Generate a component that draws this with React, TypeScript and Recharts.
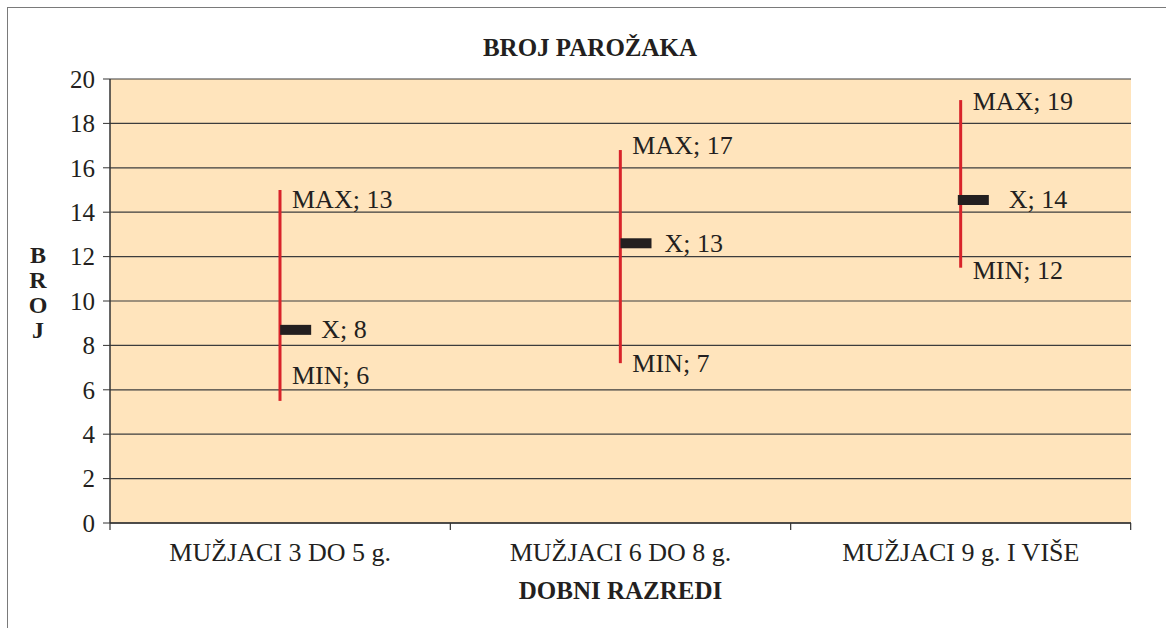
import React from "react";
import { ComposedChart, Bar, Scatter, XAxis, YAxis, CartesianGrid } from "recharts";

const categories = ["MUŽJACI 3 DO 5 g.", "MUŽJACI 6 DO 8 g.", "MUŽJACI 9 g. I VIŠE"];
const highValues = [15, 16.8, 19.05];
const lowValues = [5.5, 7.2, 11.5];
const meanValues = [8.7, 12.6, 14.55];
const maxLabels = [13, 17, 19];
const minLabels = [6, 7, 12];
const meanLabels = [8, 13, 14];
const yTicks = [0, 2, 4, 6, 8, 10, 12, 14, 16, 18, 20];

// hand-placed label nudges, as in the original sheet (px)
const maxNudge = [9, -5, 1];
const minNudge = [-25, 0, 3];
const meanMarkerShift = [0, 0, -3];
const meanTextGap = [10, 13, 20];

const FONT = "'Liberation Serif', 'DejaVu Serif', serif";
const INK = "#231f20";
const RED = "#d8232a";
const PLOT_BG = "#ffe4bc";

const data = categories.map((name, i) => ({
  name,
  idx: i,
  range: [lowValues[i], highValues[i]],
  mean: meanValues[i],
}));

const RangeShape = (props: any) => {
  const { x, y, width, height, payload } = props;
  const i = payload.idx;
  const cx = x + width / 2;
  return (
    <g>
      <line x1={cx} x2={cx} y1={y} y2={y + height} stroke={RED} strokeWidth={3} />
      <text x={cx + 12} y={y + maxNudge[i]} dominantBaseline="central" fontFamily={FONT} fontSize={26} fill={INK}>
        MAX; {maxLabels[i]}
      </text>
      <text x={cx + 12} y={y + height + minNudge[i]} dominantBaseline="central" fontFamily={FONT} fontSize={26} fill={INK}>
        MIN; {minLabels[i]}
      </text>
    </g>
  );
};

// category band edges -> tick marks below the x axis
const BandTicks = (props: any) => {
  const { x, y, width, height, index } = props;
  const yb = y + height;
  return (
    <g>
      <line x1={x} x2={x} y1={yb} y2={yb + 7} stroke="#333" strokeWidth={1.2} />
      {index === categories.length - 1 && (
        <line x1={x + width} x2={x + width} y1={yb} y2={yb + 7} stroke="#333" strokeWidth={1.2} />
      )}
    </g>
  );
};

const MeanShape = (props: any) => {
  const { cx, cy, payload } = props;
  const i = payload.idx;
  const x0 = cx + meanMarkerShift[i];
  return (
    <g>
      <rect x={x0} y={cy - 5} width={31} height={10} fill={INK} />
      <text x={x0 + 31 + meanTextGap[i]} y={cy} dominantBaseline="central" fontFamily={FONT} fontSize={26} fill={INK}>
        X; {meanLabels[i]}
      </text>
    </g>
  );
};

const YTitle = () => {
  const letters = ["B", "R", "O", "J"];
  return (
    <text x={38} textAnchor="middle" fontFamily={FONT} fontSize={24} fontWeight="bold" fill={INK}>
      {letters.map((l, k) => (
        <tspan key={l} x={38} y={263 + k * 25}>
          {l}
        </tspan>
      ))}
    </text>
  );
};

const XTitle = (props: any) => {
  const vb = props.viewBox || {};
  return (
    <text
      x={vb.x + vb.width / 2}
      y={vb.y + 67}
      textAnchor="middle"
      dominantBaseline="central"
      fontFamily={FONT}
      fontSize={25}
      fontWeight="bold"
      fill={INK}
    >
      DOBNI RAZREDI
    </text>
  );
};

export default function App() {
  return (
    <div style={{ position: "absolute", left: 0, top: 0, width: 1166, height: 628, overflow: "hidden", background: "#fff" }}>
      <div
        style={{
          position: "absolute",
          left: 7,
          top: 7,
          width: 1200,
          height: 700,
          borderTop: "1.5px solid #7a7a7a",
          borderLeft: "1.5px solid #7a7a7a",
        }}
      />
      <svg width={1166} height={628} style={{ position: "absolute", left: 0, top: 0, pointerEvents: "none" }}>
        <text x={590} y={47} textAnchor="middle" dominantBaseline="central" fontFamily={FONT} fontSize={25} fontWeight="bold" fill={INK}>
          BROJ PAROŽAKA
        </text>
      </svg>
      <div style={{ position: "absolute", left: 0, top: 0 }}>
        <ComposedChart
          width={1166}
          height={628}
          data={data}
          barCategoryGap={0}
          margin={{ top: 79, right: 35, bottom: 0, left: 0 }}
        >
          <CartesianGrid vertical={false} fill={PLOT_BG} stroke="#3c3c3c" strokeWidth={1.2} />
          <XAxis
            dataKey="name"
            height={105}
            axisLine={{ stroke: "#333", strokeWidth: 1.5 }}
            tickLine={false}
            tickSize={6}
            tickMargin={14}
            interval={0}
            tick={{ fontFamily: FONT, fontSize: 26, fill: INK }}
            label={<XTitle />}
          />
          <YAxis
            domain={[0, 20]}
            ticks={yTicks}
            width={110}
            tickSize={7}
            tickMargin={8}
            interval={0}
            axisLine={{ stroke: "#333", strokeWidth: 1.5 }}
            tickLine={{ stroke: "#333" }}
            tick={{ fontFamily: FONT, fontSize: 25, fill: INK }}
            label={<YTitle />}
          />
          <YAxis
            yAxisId="right"
            orientation="right"
            domain={[0, 20]}
            width={0}
            tick={false}
            tickLine={false}
            axisLine={{ stroke: "#444", strokeWidth: 1.5 }}
          />
          <Bar dataKey="range" shape={<RangeShape />} background={<BandTicks />} isAnimationActive={false} />
          <Scatter dataKey="mean" shape={<MeanShape />} isAnimationActive={false} />
        </ComposedChart>
      </div>
    </div>
  );
}
